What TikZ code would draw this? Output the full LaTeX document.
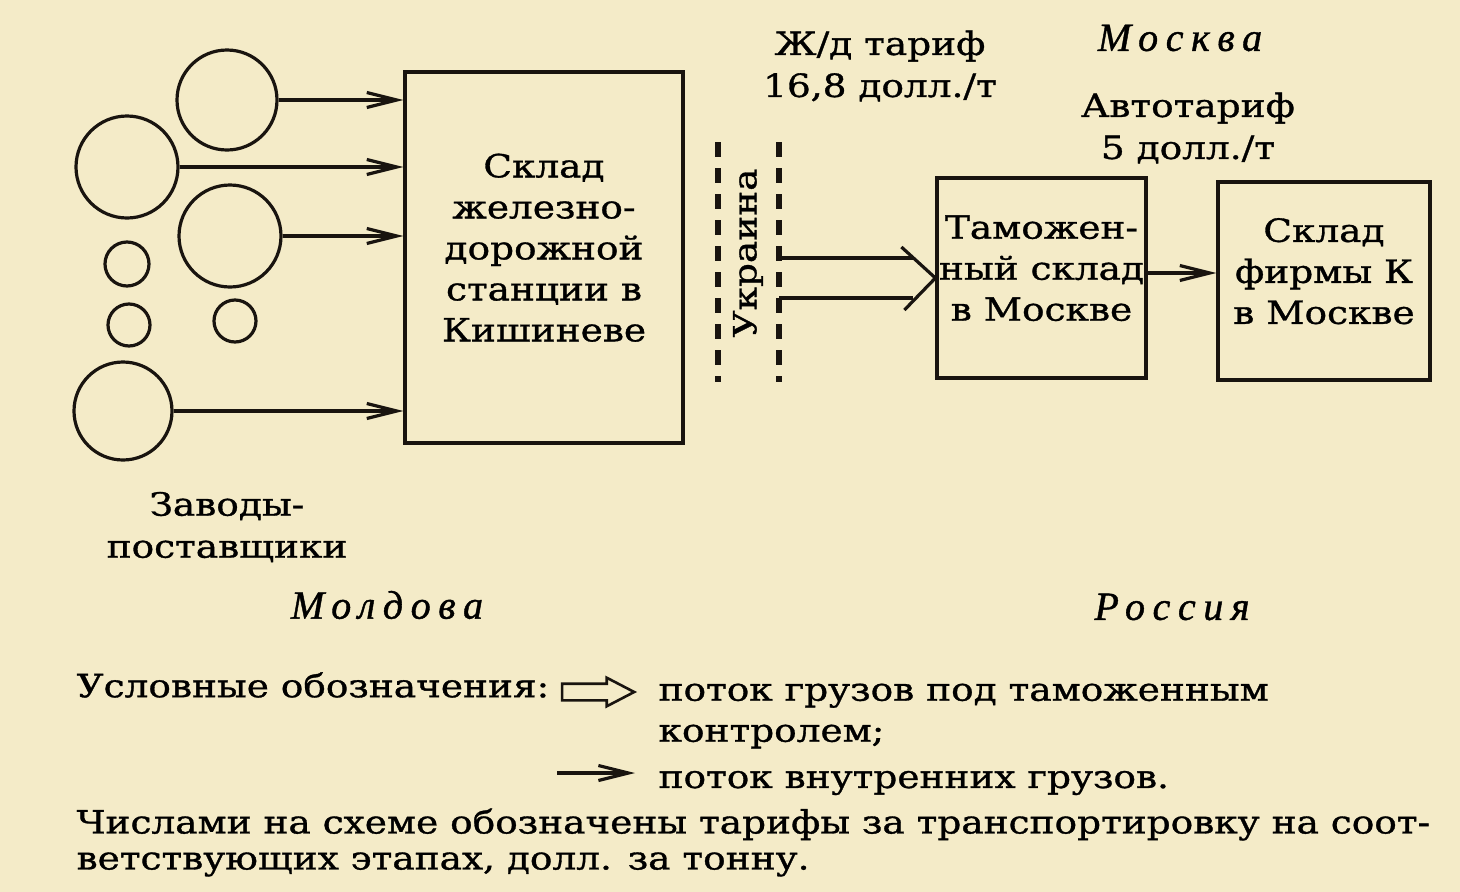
\documentclass[tikz,border=0pt]{standalone}
\usepackage{fontspec}
\setmainfont{DejaVu Serif}[FakeStretch=1.17, FakeBold=1]
\newfontfamily\regionfont{Liberation Serif}[LetterSpace=19, FakeBold=1]
\usetikzlibrary{arrows.meta,positioning,shapes.arrows}
\definecolor{paper}{RGB}{244,235,200}
\definecolor{ink}{RGB}{25,20,15}
\begin{document}
\begin{tikzpicture}[x=1pt, y=-1pt, line width=3.2pt, draw=ink,
  >={Straight Barb[length=30pt,width=15pt]},
  factory/.style={circle, draw, inner sep=0pt},
  store/.style={draw, align=center, inner sep=0pt, text depth=20pt, font=\fontsize{32}{41}\selectfont},
  caption/.style={align=center, inner sep=0pt, font=\fontsize{32}{42}\selectfont},
  region/.style={inner sep=0pt, font=\fontsize{40}{44}\regionfont\itshape},
  legendtext/.style={align=left, inner sep=0pt, anchor=west, font=\fontsize{32}{41}\selectfont},
  border/.style={line width=6pt, dash pattern=on 15pt off 11pt}]
\fill[paper] (0,0) rectangle (1460,892);
\useasboundingbox (0,0) rectangle (1460,892);

% factories
\node[factory, minimum size=100pt] (f1) at (227,100) {};
\node[factory, minimum size=102pt] (f2) at (127,167) {};
\node[factory, minimum size=102pt] (f3) at (230,236) {};
\node[factory, minimum size=44pt] (f4) at (127,264) {};
\node[factory, minimum size=42pt] (f5) at (129,325) {};
\node[factory, minimum size=42pt] (f6) at (235,321) {};
\node[factory, minimum size=98pt] (f7) at (123,411) {};

% warehouses
\node[store, minimum width=278pt, minimum height=371pt] (station) at (544,257.5)
  {Склад\\железно-\\дорожной\\станции в\\Кишиневе};
\node[store, minimum width=209pt, minimum height=200pt] (customs) at (1041.5,278)
  {Таможен-\\ный склад\\в Москве};
\node[store, minimum width=212pt, minimum height=198pt] (firm) at (1324,281)
  {Склад\\фирмы К\\в Москве};

\foreach \f in {f1,f2,f3,f7}
  \draw[->] (\f.east) -- (\f.east -| station.west);

% Ukraine border
\coordinate (uka) at (718,142);
\coordinate (ukb) at (779,142);
\draw[border] (uka) -- ++(0,240);
\draw[border] (ukb) -- ++(0,240);
\node[rotate=90, inner sep=0pt, font=\fontsize{32}{40}\selectfont] (ukraine) at (748,253) {Украина};

% flow under customs control
\coordinate (dt) at (779,258);
\coordinate (db) at (779,298);
\draw (dt) -- (dt -| 913,0);
\draw (db) -- (db -| 913,0);
\draw (customs.west) ++(-34,-31) -- (customs.west) -- ++(-31,32);

\coordinate (af) at ([yshift=5pt]customs.east);
\draw[->] (af) -- (af -| firm.west);

% tariffs and regions
\node[caption] (rail) at (880,66) {Ж/д тариф\\16,8 долл./т};
\node[caption] (auto) at (1188,128) {Автотариф\\5 долл./т};
\node[region] (moscow) at (1180,38) {Москва};
\node[caption] (plants) at (227,527) {Заводы-\\поставщики};
\node[region] (moldova) at (387,605) {Молдова};
\node[region] (russia) at (1172,607) {Россия};

% legend
\node[legendtext] (legend) at (75,685) {Условные обозначения:};
\node[legendtext] (custflow) at (657,716) {поток грузов под таможенным\\контролем;};
\node[legendtext] (inflow) at (657,783) {поток внутренних грузов.};
\node[single arrow, draw, line width=2.6pt, inner xsep=0pt, inner ysep=7pt, minimum height=72pt, minimum width=26pt,
  single arrow head extend=6pt, single arrow tip angle=55, anchor=east] (hollow) at (637,692) {};
\coordinate (la) at (557,773);
\draw[->] (la) -- (la -| 635,0);
\node[legendtext, anchor=north west, font=\fontsize{32}{36}\selectfont] (note) at (75,807)
  {Числами на схеме обозначены тарифы за транспортировку на соот-\\ветствующих этапах, долл. за тонну.};
\end{tikzpicture}
\end{document}
